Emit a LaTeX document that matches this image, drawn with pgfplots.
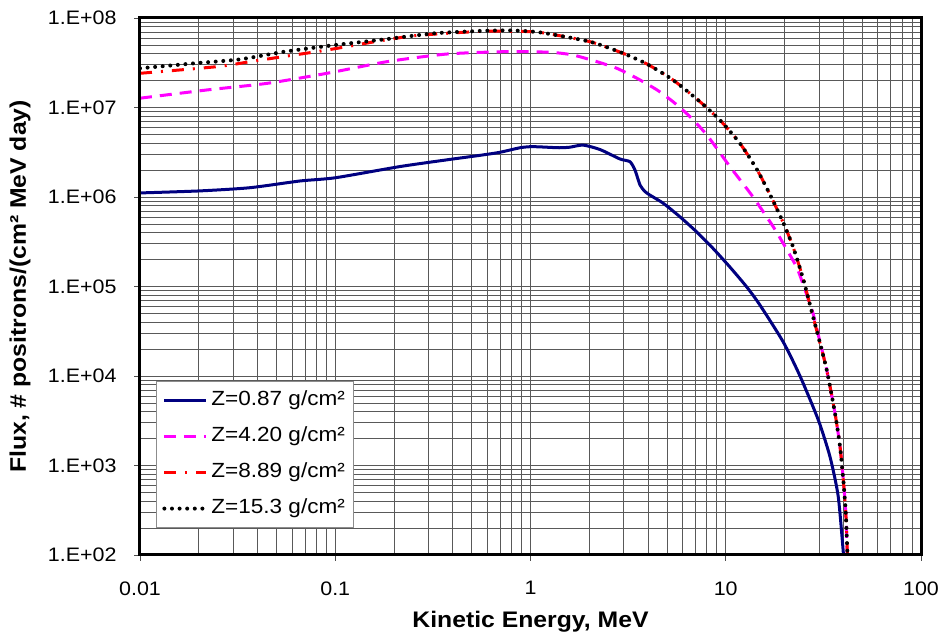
\documentclass[border=0pt]{standalone}
\usepackage{pgfplots}
\pgfplotsset{compat=1.18}
\usepackage{fontspec}
\setmainfont{Liberation Sans}[FakeStretch=1.1]
\definecolor{navyc}{RGB}{0,0,128}
\definecolor{magc}{RGB}{255,0,255}
\definecolor{redc}{RGB}{255,0,0}
\begin{document}
\begin{tikzpicture}
\begin{axis}[
  xmode=log, ymode=log,
  scale only axis, width=781bp, height=537bp,
  xmin=0.01, xmax=100, ymin=1e2, ymax=1e8,
  xtick={0.01,0.1,1,10,100},
  xticklabels={0.01,0.1,1,10,100},
  ytick={1e2,1e3,1e4,1e5,1e6,1e7,1e8},
  yticklabels={1.E+02,1.E+03,1.E+04,1.E+05,1.E+06,1.E+07,1.E+08},
  minor xtick={0.02,0.03,0.04,0.05,0.06,0.07,0.08,0.09,0.2,0.3,0.4,0.5,0.6,0.7,0.8,0.9,2,3,4,5,6,7,8,9,20,30,40,50,60,70,80,90},
  minor ytick={2e2,3e2,4e2,5e2,6e2,7e2,8e2,9e2,2e3,3e3,4e3,5e3,6e3,7e3,8e3,9e3,2e4,3e4,4e4,5e4,6e4,7e4,8e4,9e4,2e5,3e5,4e5,5e5,6e5,7e5,8e5,9e5,2e6,3e6,4e6,5e6,6e6,7e6,8e6,9e6,2e7,3e7,4e7,5e7,6e7,7e7,8e7,9e7},
  grid=both,
  major grid style={black!65, line width=0.7bp},
  minor grid style={black!65, line width=0.7bp},
  axis line style={line width=3bp, black},
  tick align=outside, tick pos=left,
  major tick length=6bp, minor tick length=0pt,
  tick style={black!70, line width=0.8bp},
  tick label style={font=\fontsize{19.5bp}{23bp}\selectfont, black},
  xticklabel style={yshift=-17bp},
  yticklabel style={xshift=-14bp},
  xlabel={\bfseries Kinetic Energy, MeV},
  ylabel={\bfseries Flux, \# positrons/(cm² MeV day)},
  label style={font=\fontsize{22.5bp}{26bp}\selectfont},
  xlabel style={at={(axis description cs:0.5,0)}, anchor=base, yshift=-73bp},
  ylabel style={at={(axis description cs:-0.1536,0.5)}, anchor=center},
  legend cell align=left,
  legend image code/.code={\draw[#1] (0bp,0bp) -- (42bp,0bp);},
  legend style={at={(axis description cs:0,0)}, anchor=south west,
    xshift=16bp, yshift=27bp, draw=black!45, line width=0.8bp, fill=white,
    font=\fontsize{20.5bp}{24bp}\selectfont, inner xsep=6bp, inner ysep=9bp,
    row sep=16bp,
    nodes={inner xsep=3bp, inner ysep=0bp, text height=15bp, text depth=5bp}},
  after end axis/.code={\draw[line width=3bp, black] (rel axis cs:0,0) rectangle (rel axis cs:1,1);},
]
\addplot[navyc, line width=3bp, smooth, tension=0.4] coordinates {
(0.01,1.11e6)(0.0203,1.17e6)(0.0366,1.27e6)(0.066,1.51e6)(0.1,1.64e6)(0.215,2.19e6)
(0.387,2.63e6)(0.551,2.92e6)(0.698,3.16e6)(0.883,3.55e6)(1.0,3.65e6)(1.12,3.63e6)(1.4,3.55e6)
(1.59,3.6e6)(1.86,3.8e6)(2.27,3.39e6)(2.87,2.66e6)(3.23,2.48e6)(3.43,2.0e6)(3.64,1.36e6)
(3.86,1.15e6)(4.09,1.05e6)(4.79,8.5e5)(5.83,6.0e5)(7.10,4.07e5)(8.6,2.67e5)(10.5,1.65e5)
(12.8,9.9e4)(14.97,6.2e4)(19.7,2.4e4)(24.0,1.0e4)(29.8,3.22e3)(34.2,1.25e3)(37.7,448)
(40.1,100)};
\addlegendentry{Z=0.87 g/cm²}
\addplot[magc, line width=3bp, dash pattern=on 12bp off 8bp, smooth, tension=0.4] coordinates {
(0.01,1.27e7)(0.022,1.57e7)(0.0447,1.86e7)(0.0907,2.41e7)(0.184,3.25e7)(0.374,3.96e7)
(0.758,4.21e7)(1.26,4.14e7)(1.65,3.86e7)(2.19,3.25e7)(2.77,2.74e7)(3.51,2.12e7)
(4.45,1.57e7)(5.37,1.16e7)(6.56,7.9e6)(8.02,4.9e6)(10.5,2.19e6)(13.8,1.0e6)(17.5,4.66e5)
(20.6,2.56e5)(23.2,1.6e5)(25.5,9.1e4)(28.0,5.0e4)(30.0,2.7e4)(32.9,1.17e4)(36.3,3.8e3)
(38.5,1.62e3)(40.0,692)(41.2,295)(41.9,100)};
\addlegendentry{Z=4.20 g/cm²}
\addplot[redc, line width=3bp, dash pattern=on 12bp off 9bp on 2bp off 9bp, smooth, tension=0.4] coordinates {
(0.01,2.41e7)(0.0248,2.86e7)(0.0366,3.25e7)(0.054,3.70e7)(0.0806,4.21e7)(0.115,4.79e7)
(0.17,5.57e7)(0.25,6.31e7)(0.374,6.75e7)(0.569,7.1e7)(0.814,7.1e7)(1.12,6.9e7)
(2.02,5.43e7)(2.98,4.03e7)(3.95,3.06e7)(5.37,2.03e7)(7.38,1.16e7)(9.35,7.2e6)(11.8,4.0e6)
(14.5,2.0e6)(16.9,1.05e6)(19.6,5.3e5)(22.1,2.79e5)(24.9,1.22e5)(28.0,4.6e4)(29.8,2.75e4)
(32.9,1.17e4)(36.3,3.8e3)(38.5,1.62e3)(40.0,692)(41.2,295)(42.0,100)};
\addlegendentry{Z=8.89 g/cm²}
\addplot[black, line width=4bp, line cap=round, dash pattern=on 0bp off 7.6bp, smooth, tension=0.4] coordinates {
(0.01,2.74e7)(0.0191,3.12e7)(0.0325,3.45e7)(0.0553,4.21e7)(0.1,4.99e7)(0.18,5.78e7)
(0.324,6.75e7)(0.585,7.2e7)(0.8,7.25e7)(1.12,6.9e7)(2.02,5.43e7)(2.98,4.03e7)(3.95,3.06e7)
(5.37,2.03e7)(7.38,1.16e7)(9.35,7.2e6)(11.8,4.0e6)(14.5,2.0e6)(16.9,1.05e6)(19.6,5.3e5)
(22.1,2.79e5)(24.9,1.22e5)(28.0,4.6e4)(29.8,2.75e4)(32.9,1.17e4)(36.3,3.8e3)(38.5,1.62e3)
(40.0,692)(41.2,295)(42.0,100)};
\addlegendentry{Z=15.3 g/cm²}
\end{axis}
\pgfresetboundingbox
\path ([shift={(-140bp,-83bp)}]current axis.south west) rectangle ([shift={(22bp,18bp)}]current axis.north east);
\end{tikzpicture}
\end{document}
